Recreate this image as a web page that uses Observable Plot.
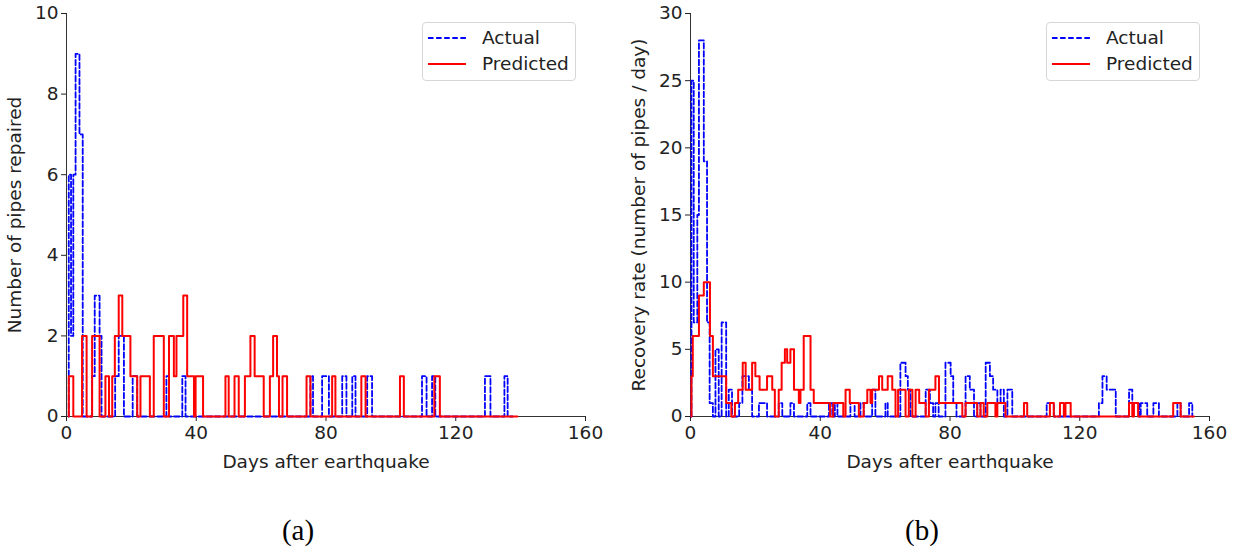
<!DOCTYPE html>
<html>
<head>
<meta charset="utf-8">
<script src="https://cdn.jsdelivr.net/npm/d3@7"></script>
<script src="https://cdn.jsdelivr.net/npm/@observablehq/plot@0.6"></script>
<style>
  body { margin: 0; background: #fff; }
  #fig { position: relative; width: 1237px; height: 556px; background: #fff; font-family: "DejaVu Sans", sans-serif; color: #222; }
  .panel { position: absolute; top: 0; }
  .legend { position: absolute; width: 152px; height: 57px; border: 1px solid #d6d6d6; border-radius: 4px; background: rgba(255,255,255,0.85); }
  .legend svg { position: absolute; left: 5px; }
  .legend span { position: absolute; left: 59px; font-size: 18.5px; line-height: 22px; color: #222; }
  .cap { position: absolute; top: 514px; font-family: "Liberation Serif", serif; font-size: 29px; transform: translateX(-50%); color: #000; }
</style>
</head>
<body>
<div id="fig"></div>
<script>
// Step histories: each series is a list of change days and the level that starts there.
const xTicks = [0, 40, 80, 120, 160];

// (a) pipes repaired per day
const actualADays   = [0.7, 1.4, 2.1, 2.8, 4.0, 5.0, 7.9, 8.7, 10.2, 10.8, 15.0, 16.1, 17.7, 20.4, 21.8, 30.8, 31.6, 35.7, 36.7, 75.2, 76.0, 78.8, 80.9, 85.0, 86.3, 88.1, 89.1, 92.7, 94.2, 109.6, 111.0, 112.7, 113.7, 129.0, 130.7, 135.0, 136.0];
const actualAValues = [6, 2, 6, 9, 7, 0, 1, 3, 2, 0, 1, 2, 0, 1, 0, 1, 0, 1, 0, 1, 0, 1, 0, 1, 0, 1, 0, 1, 0, 1, 0, 1, 0, 1, 0, 1, 0];
const actualAEnd = 137.5;

const predictedADays   = [0.7, 2.1, 4.8, 6.2, 7.9, 10.2, 12.0, 13.1, 14.1, 14.9, 16.1, 17.2, 19.7, 21.8, 22.8, 25.7, 26.9, 30.0, 31.6, 33.1, 33.9, 36.0, 37.2, 39.3, 39.8, 42.1, 49.0, 50.0, 51.8, 53.1, 55.0, 56.7, 58.0, 60.8, 62.7, 63.7, 64.9, 65.5, 66.6, 68.0, 74.0, 75.2, 81.9, 82.9, 90.9, 92.2, 102.8, 104.0, 113.4, 115.1];
const predictedAValues = [1, 0, 2, 0, 2, 0, 1, 0, 1, 2, 3, 2, 1, 0, 1, 0, 2, 0, 2, 1, 2, 3, 1, 0, 1, 0, 1, 0, 1, 0, 1, 2, 1, 0, 1, 2, 1, 0, 1, 0, 1, 0, 1, 0, 1, 0, 1, 0, 1, 0];
const predictedAEnd = 139;

// (b) recovery rate, pipes per day
const actualBDays   = [0.3, 1.0, 2.1, 2.6, 4.1, 5.1, 5.9, 6.9, 7.7, 8.7, 9.6, 11.0, 11.8, 12.8, 15.0, 16.0, 18.0, 19.0, 21.1, 23.6, 27.2, 28.3, 30.8, 31.9, 36.0, 37.0, 42.7, 43.7, 44.5, 45.3, 49.3, 50.6, 52.4, 53.4, 56.0, 57.0, 60.1, 60.8, 64.7, 66.3, 67.0, 67.8, 72.5, 73.8, 74.8, 75.5, 76.5, 78.6, 80.2, 81.0, 82.0, 84.8, 86.1, 87.4, 88.4, 89.4, 91.0, 92.3, 93.3, 94.6, 95.6, 96.6, 97.7, 99.2, 109.8, 112.0, 125.9, 127.0, 128.3, 131.1, 135.2, 136.2, 138.3, 138.8, 140.8, 142.7, 144.4, 150.1, 151.1, 153.7, 154.7];
const actualBValues = [25, 7, 15, 28, 19, 7, 1, 0, 5, 0, 7, 0, 2, 0, 1, 3, 2, 0, 1, 0, 1, 0, 1, 0, 1, 0, 1, 0, 1, 0, 1, 0, 1, 0, 2, 0, 1, 0, 4, 3, 2, 0, 2, 1, 0, 1, 0, 4, 3, 1, 0, 3, 2, 0, 1, 0, 4, 3, 2, 1, 2, 0, 2, 0, 1, 0, 1, 3, 2, 0, 2, 1, 0, 1, 0, 1, 0, 1, 0, 1, 0];
const actualBEnd = 154.7;

const predictedBDays   = [0.3, 0.7, 2.6, 4.1, 6.0, 6.9, 11.0, 12.6, 13.7, 14.7, 16.1, 17.0, 19.0, 20.0, 21.3, 23.6, 25.2, 26.0, 27.2, 28.1, 29.1, 29.8, 30.8, 31.9, 33.4, 33.9, 34.9, 37.0, 38.0, 43.0, 44.0, 47.1, 47.8, 49.1, 51.9, 53.4, 54.5, 55.5, 56.0, 58.1, 59.1, 60.8, 62.2, 63.2, 64.0, 66.3, 67.3, 68.4, 69.4, 70.5, 72.5, 73.5, 75.5, 76.6, 83.8, 84.8, 88.4, 89.4, 90.4, 91.5, 94.0, 94.6, 97.1, 102.8, 103.8, 110.8, 112.0, 113.9, 115.1, 115.6, 117.2, 135.2, 136.2, 136.7, 138.0, 148.8, 151.1];
const predictedBValues = [3, 6, 9, 10, 6, 3, 1, 0, 1, 2, 4, 2, 4, 3, 2, 3, 2, 0, 2, 4, 5, 4, 5, 2, 1, 2, 6, 2, 1, 0, 1, 0, 2, 1, 0, 1, 2, 1, 2, 3, 2, 3, 2, 0, 2, 0, 2, 0, 2, 1, 0, 2, 3, 1, 0, 1, 0, 1, 0, 1, 0, 1, 0, 1, 0, 1, 0, 1, 0, 1, 0, 1, 0, 1, 0, 1, 0];
const predictedBEnd = 155.2;

const seriesNames = ["Actual", "Predicted"];
const seriesColors = ["#0000ff", "#ff0000"];

// Turn change points into a polyline for a step-after curve: rise from the baseline,
// hold each level until the next change, and run out to the end day.
function stepPoints(days, values, end) {
  const pts = [{day: days[0], value: 0}];
  days.forEach((d, i) => pts.push({day: d, value: values[i]}));
  pts.push({day: end, value: 0});
  return pts;
}

function panel({actual, predicted, yMax, yTicks, yLabel}) {
  return Plot.plot({
    width: 620,
    height: 480,
    marginLeft: 66,
    marginRight: 35,
    marginTop: 13,
    marginBottom: 64,
    style: {fontFamily: "DejaVu Sans, sans-serif", fontSize: "18.5px", color: "#222", background: "transparent", overflow: "visible"},
    x: {domain: [0, 160], ticks: xTicks, tickSize: 5, tickPadding: 4, label: "Days after earthquake", labelAnchor: "center", labelOffset: 51, labelArrow: "none"},
    y: {domain: [0, yMax], ticks: yTicks, tickSize: 5, tickPadding: 3, label: yLabel, labelAnchor: "center", labelOffset: 59, labelArrow: "none"},
    marks: [
      Plot.ruleX([0], {stroke: "#333", strokeWidth: 1}),
      Plot.ruleY([0], {stroke: "#333", strokeWidth: 1}),
      Plot.line(actual, {x: "day", y: "value", curve: "step-after", stroke: seriesColors[0], strokeWidth: 1.8, strokeDasharray: "5.5,2.6"}),
      Plot.line(predicted, {x: "day", y: "value", curve: "step-after", stroke: seriesColors[1], strokeWidth: 2})
    ]
  });
}

const fig = document.getElementById("fig");

function addPanel(left, chart) {
  chart.classList.add("panel");
  chart.style.left = left + "px";
  fig.appendChild(chart);
}

function addLegend(left, top) {
  const box = document.createElement("div");
  box.className = "legend";
  box.style.left = left + "px";
  box.style.top = top + "px";
  seriesNames.forEach((name, i) => {
    const cy = 15 + i * 26;
    const sw = document.createElementNS("http://www.w3.org/2000/svg", "svg");
    sw.setAttribute("width", 40);
    sw.setAttribute("height", 6);
    sw.style.top = (cy - 3) + "px";
    const ln = document.createElementNS("http://www.w3.org/2000/svg", "line");
    ln.setAttribute("x1", 0); ln.setAttribute("x2", 38);
    ln.setAttribute("y1", 3); ln.setAttribute("y2", 3);
    ln.setAttribute("stroke", seriesColors[i]);
    ln.setAttribute("stroke-width", i === 0 ? 1.8 : 2);
    if (i === 0) ln.setAttribute("stroke-dasharray", "5.5,2.6");
    sw.appendChild(ln);
    box.appendChild(sw);
    const t = document.createElement("span");
    t.textContent = name;
    t.style.top = (cy - 11) + "px";
    box.appendChild(t);
  });
  fig.appendChild(box);
}

function addCaption(x, text) {
  const c = document.createElement("div");
  c.className = "cap";
  c.style.left = x + "px";
  c.textContent = text;
  fig.appendChild(c);
}

addPanel(0, panel({
  actual: stepPoints(actualADays, actualAValues, actualAEnd),
  predicted: stepPoints(predictedADays, predictedAValues, predictedAEnd),
  yMax: 10,
  yTicks: [0, 2, 4, 6, 8, 10],
  yLabel: "Number of pipes repaired"
}));

addPanel(624, panel({
  actual: stepPoints(actualBDays, actualBValues, actualBEnd),
  predicted: stepPoints(predictedBDays, predictedBValues, predictedBEnd),
  yMax: 30,
  yTicks: [0, 5, 10, 15, 20, 25, 30],
  yLabel: "Recovery rate (number of pipes / day)"
}));

addLegend(422, 22);
addLegend(1046, 22);
addCaption(298, "(a)");
addCaption(922, "(b)");
</script>
</body>
</html>
